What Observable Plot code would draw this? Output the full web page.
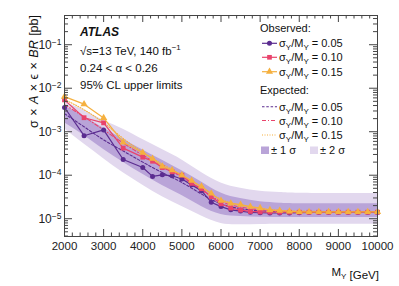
<!DOCTYPE html>
<html><head><meta charset="utf-8">
<script src="https://cdn.jsdelivr.net/npm/d3@7"></script>
<script src="https://cdn.jsdelivr.net/npm/@observablehq/plot@0.6"></script>
<style>body{margin:0;background:#fff}</style>
</head><body><div id="chart"></div>
<script>
// ---- data ----
const bandMass = [2000,2500,3000,3500,4000,4500,5000,5500,6000,6500,7000,7500,8000,9000,10000];
const expected05 = [2.6e-3,1.3e-3,6.5e-4,3.6e-4,2.0e-4,1.15e-4,6.8e-5,3.7e-5,2.2e-5,1.7e-5,1.52e-5,1.46e-5,1.45e-5,1.45e-5,1.45e-5];
const expected10 = [4.2e-3,2.2e-3,1.1e-3,5.5e-4,2.9e-4,1.6e-4,9.0e-5,4.6e-5,2.5e-5,1.85e-5,1.6e-5,1.5e-5,1.45e-5,1.45e-5,1.45e-5];
const expected15 = [5.5e-3,3.2e-3,1.6e-3,7.0e-4,3.4e-4,1.8e-4,1.0e-4,5.2e-5,2.8e-5,2.05e-5,1.72e-5,1.56e-5,1.5e-5,1.45e-5,1.45e-5];
const sigma1Hi = [3.9e-3,2.2e-3,1.2e-3,6.7e-4,3.8e-4,2.2e-4,1.27e-4,7.0e-5,3.9e-5,2.9e-5,2.45e-5,2.28e-5,2.22e-5,2.2e-5,2.2e-5];
const sigma1Lo = [1.6e-3,8.2e-4,3.9e-4,2.0e-4,1.05e-4,5.8e-5,3.4e-5,1.9e-5,1.25e-5,1.12e-5,1.08e-5,1.07e-5,1.07e-5,1.07e-5,1.07e-5];
const sigma2Hi = [4.8e-3,3.1e-3,1.8e-3,1.14e-3,6.6e-4,3.9e-4,2.25e-4,1.15e-4,6.6e-5,5.0e-5,4.3e-5,4.0e-5,3.85e-5,3.8e-5,3.8e-5];
const sigma2Lo = [1.17e-3,5.2e-4,2.4e-4,1.14e-4,5.9e-5,3.2e-5,1.9e-5,1.15e-5,7.8e-6,7.3e-6,7.4e-6,7.5e-6,7.5e-6,7.5e-6,7.5e-6];

const obsMass = [2000,2500,3000,3500,4000,4250,4500,4750,5000,5250,5500,5750,6000,6250,6500,6750,7000,7250,7500,7750,8000,8250,8500,8750,9000,9250,9500,9750,10000];
const observed05 = [3.6e-3,8.1e-4,1.1e-3,2.3e-4,1.5e-4,9.4e-5,1.02e-4,9.7e-5,8.2e-5,6.0e-5,4.4e-5,2.4e-5,1.9e-5,1.6e-5,1.5e-5,1.4e-5,1.37e-5,1.36e-5,1.36e-5,1.36e-5,1.38e-5,1.4e-5,1.4e-5,1.4e-5,1.4e-5,1.4e-5,1.4e-5,1.4e-5,1.4e-5];
const observed10 = [5.4e-3,2.1e-3,1.6e-3,4.2e-4,2.6e-4,2.1e-4,1.5e-4,1.2e-4,1.0e-4,6.5e-5,4.9e-5,3.2e-5,2.2e-5,1.76e-5,1.58e-5,1.47e-5,1.43e-5,1.42e-5,1.41e-5,1.41e-5,1.41e-5,1.41e-5,1.41e-5,1.41e-5,1.41e-5,1.41e-5,1.41e-5,1.41e-5,1.41e-5];
const observed15 = [6.4e-3,4.3e-3,2.07e-3,5.7e-4,3.3e-4,2.4e-4,1.6e-4,1.3e-4,1.0e-4,7.5e-5,5.5e-5,3.8e-5,2.6e-5,2.25e-5,2.1e-5,1.9e-5,1.76e-5,1.58e-5,1.53e-5,1.47e-5,1.44e-5,1.43e-5,1.43e-5,1.43e-5,1.43e-5,1.43e-5,1.43e-5,1.43e-5,1.43e-5];

const seriesNames = ["0.05","0.10","0.15"];
const xTicks = [2000,3000,4000,5000,6000,7000,8000,9000,10000];
const yTicks = [1e-5,1e-4,1e-3,1e-2,1e-1];

// ---- styling ----
const FONT = '"Liberation Sans", Arial, Helvetica, sans-serif';
const colors = {"0.05":"#5b2c90","0.10":"#e9446c","0.15":"#f5b03f"};
const symbols = {"0.05":"circle","0.10":"square","0.15":"triangle"};
const dashes = {"0.05":"2.5,1.8","0.10":"4,2,1,2","0.15":"1,1.5"};
const band1 = "#b9a4d8", band2 = "#e2d8ee";

const W = 399, H = 286, mL = 64, mR = 22, mT = 15, mB = 50;
const pw = W - mL - mR, ph = H - mT - mB;

const bands = bandMass.map((m,i)=>({m, lo1:sigma1Lo[i], hi1:sigma1Hi[i], lo2:sigma2Lo[i], hi2:sigma2Hi[i]}));
const expData = [];
[expected05,expected10,expected15].forEach((arr,k)=>arr.forEach((v,i)=>expData.push({s:seriesNames[k], m:bandMass[i], v})));
const obsData = [];
[observed05,observed10,observed15].forEach((arr,k)=>arr.forEach((v,i)=>obsData.push({s:seriesNames[k], m:obsMass[i], v})));

const xMinor = d3.range(2000, 10001, 200).filter(v => v % 1000 !== 0);
const yDomain = [3.9e-6, 0.47];
const yMinor = [];
for (let e = -6; e <= -1; e++) for (let k = 2; k <= 9; k++) { const v = k * Math.pow(10, e); if (v > yDomain[0] && v < yDomain[1]) yMinor.push(v); }

const tickColor = "#444";
const marks = [
  Plot.areaY(bands, {x:"m", y1:"lo2", y2:"hi2", fill:band2, curve:"natural"}),
  Plot.areaY(bands, {x:"m", y1:"lo1", y2:"hi1", fill:band1, curve:"natural"}),
];
seriesNames.forEach(s => {
  marks.push(Plot.line(expData.filter(d=>d.s===s), {x:"m", y:"v", stroke:colors[s], strokeWidth:1.1, strokeDasharray:dashes[s], curve:"natural"}));
});
seriesNames.forEach(s => {
  const d = obsData.filter(d=>d.s===s);
  marks.push(Plot.line(d, {x:"m", y:"v", stroke:colors[s], strokeWidth:1.2}));
  marks.push(Plot.dot(d, {x:"m", y:"v", fill:colors[s], symbol:symbols[s], r: s==="0.05"?2.5:2.7}));
});
marks.push(
  Plot.frame({stroke:tickColor, strokeWidth:1}),
  Plot.ruleX(xTicks, {x:d=>d, insetTop: ph-7, stroke:tickColor}),
  Plot.ruleX(xTicks, {x:d=>d, insetBottom: ph-7, stroke:tickColor}),
  Plot.ruleX(xMinor, {x:d=>d, insetTop: ph-3.5, stroke:tickColor}),
  Plot.ruleX(xMinor, {x:d=>d, insetBottom: ph-3.5, stroke:tickColor}),
  Plot.ruleY(yTicks, {y:d=>d, insetRight: pw-8, stroke:tickColor}),
  Plot.ruleY(yTicks, {y:d=>d, insetLeft: pw-8, stroke:tickColor}),
  Plot.ruleY(yMinor, {y:d=>d, insetRight: pw-4, stroke:tickColor}),
  Plot.ruleY(yMinor, {y:d=>d, insetLeft: pw-4, stroke:tickColor}),
  Plot.axisX(xTicks, {tickSize:0, tickPadding:5, tickFormat:d=>String(d), fontSize:11.5, fill:"#222"}),
  Plot.axisY(yTicks, {tickSize:0, tickPadding:3, tickFormat:d=>"10^" + Math.round(Math.log10(d)), fontSize:12, fill:"#222"})
);

const chart = Plot.plot({
  width:W, height:H, marginLeft:mL, marginRight:mR, marginTop:mT, marginBottom:mB,
  style:{fontFamily:FONT, background:"#fff", color:"#222"},
  x:{domain:[2000,10000], label:null},
  y:{type:"log", domain:yDomain, label:null},
  marks
});
document.getElementById("chart").appendChild(chart);

const svg = d3.select(chart);
// superscripts in y tick labels
svg.selectAll('g[aria-label="y-axis tick label"] text').each(function(){
  const t = d3.select(this); const s = t.text();
  const p = s.split("^");
  if (p.length === 2) {
    t.text(null);
    t.append("tspan").text("10");
    t.append("tspan").attr("dy", "-0.45em").attr("font-size", "8.5px").text(p[1].replace("-", "\u2212"));
  }
});

function richText(g, x, y, parts, opts = {}) {
  const t = g.append("text").attr("x", x).attr("y", y)
    .attr("font-size", opts.size || 11.5).attr("text-anchor", opts.anchor || "start")
    .attr("font-family", FONT).attr("fill", "#111");
  if (opts.weight) t.attr("font-weight", opts.weight);
  if (opts.style) t.attr("font-style", opts.style);
  if (opts.ws) t.attr("word-spacing", opts.ws);
  let shift = 0;
  parts.forEach(p => {
    const [str, kind] = Array.isArray(p) ? p : [p, ""];
    const ts = t.append("tspan").text(str);
    let target = 0;
    if (kind === "sup") { target = -4.5; ts.attr("font-size", "8px"); }
    if (kind === "sub") { target = 3; ts.attr("font-size", "8px"); }
    if (kind === "i") ts.attr("font-style", "italic");
    if (target !== shift) { ts.attr("dy", target - shift); shift = target; }
  });
  return t;
}

const ann = svg.append("g");
richText(ann, 80, 36, ["ATLAS"], {weight:"bold", style:"italic", size:12});
richText(ann, 80, 54.5, ["\u221As=13 TeV, 140 fb", ["\u22121","sup"]]);
richText(ann, 80, 71.5, ["0.24 < \u03B1 < 0.26"]);
richText(ann, 80, 88.5, ["95% CL upper limits"]);

// y-axis title
const yt = ann.append("g").attr("transform", "translate(37.5,15) rotate(-90)");
richText(yt, 0, 0, ["\u03C3 \u00D7 ", ["A","i"], " \u00D7 \u03F5 \u00D7 ", ["BR","i"], " [pb]"], {anchor:"end", size:12.5, ws:"1px"});
// x-axis title
richText(ann, 379, 276, ["M", ["Y","sub"], ["",""], " [GeV]"], {anchor:"end", size:11.5});

// legend
const lg = svg.append("g");
richText(lg, 260, 31.5, ["Observed:"], {size:11});
const symPath = {
  "0.05": d3.symbol(d3.symbolCircle, 20)(),
  "0.10": d3.symbol(d3.symbolSquare, 22)(),
  "0.15": d3.symbol(d3.symbolTriangle, 22)()
};
const rowsObs = [43.3, 57.3, 71.7], rowsExp = [106.7, 120.5, 135];
seriesNames.forEach((s, i) => {
  const y = rowsObs[i];
  lg.append("line").attr("x1", 262).attr("x2", 277).attr("y1", y).attr("y2", y).attr("stroke", colors[s]).attr("stroke-width", 1.2);
  lg.append("path").attr("d", symPath[s]).attr("transform", `translate(269.5,${y})`).attr("fill", colors[s]);
  richText(lg, 279, y + 4, ["\u03C3", ["Y","sub"], ["/M",""], ["Y","sub"], [" = " + s, ""]], {size:11});
});
richText(lg, 260, 94, ["Expected:"], {size:11});
seriesNames.forEach((s, i) => {
  const y = rowsExp[i];
  lg.append("line").attr("x1", 262).attr("x2", 277).attr("y1", y).attr("y2", y).attr("stroke", colors[s]).attr("stroke-width", 1.1).attr("stroke-dasharray", dashes[s]);
  richText(lg, 279, y + 4, ["\u03C3", ["Y","sub"], ["/M",""], ["Y","sub"], [" = " + s, ""]], {size:11});
});
lg.append("rect").attr("x", 261).attr("y", 146.5).attr("width", 8).attr("height", 7.5).attr("fill", band1);
richText(lg, 271, 154, ["\u00B1 1 \u03C3"], {size:11});
lg.append("rect").attr("x", 310).attr("y", 146.5).attr("width", 8).attr("height", 7.5).attr("fill", band2);
richText(lg, 320, 154, ["\u00B1 2 \u03C3"], {size:11});
</script>
</body></html>
